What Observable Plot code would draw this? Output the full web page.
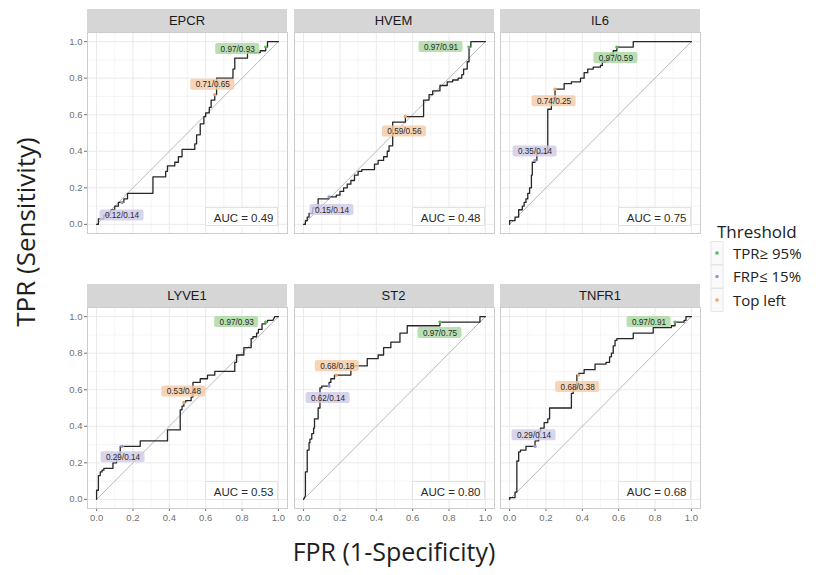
<!DOCTYPE html>
<html><head><meta charset="utf-8">
<script src="https://cdn.jsdelivr.net/npm/d3@7"></script>
<script src="https://cdn.jsdelivr.net/npm/@observablehq/plot@0.6"></script>
<style>
body{margin:0;background:#fff;}
#root{position:relative;width:820px;height:575px;overflow:hidden;background:#fff;font-family:Arial,"Liberation Sans",sans-serif;}
.strip{position:absolute;height:23px;width:200px;background:#d6d6d6;color:#1a1a1a;font-size:13px;text-align:center;line-height:23px;font-family:Arial,"Liberation Sans",sans-serif;}
.panel{position:absolute;}
.overlay{position:absolute;left:0;top:0;}
</style></head><body><div id="root"></div>
<script>
// ---------------- DATA ----------------
const markers = ["EPCR", "HVEM", "IL6", "LYVE1", "ST2", "TNFR1"];
const aucValues = [0.49, 0.48, 0.75, 0.53, 0.80, 0.68];
const axisTicks = [0, 0.2, 0.4, 0.6, 0.8, 1.0];
const minorTicks = [0.1, 0.3, 0.5, 0.7, 0.9];
const chanceLine = [[0, 0], [1, 1]];
const thresholdTypes = ["TPR\u2265 95%", "FRP\u2264 15%", "Top left"];

// ROC curves: [FPR, TPR] corner points
const rocEPCR = [[0,0],[0.01,0],[0.01,0.03],[0.04,0.03],[0.04,0.05],[0.07,0.05],[0.08,0.08],[0.1,0.08],[0.1,0.1],[0.12,0.1],[0.12,0.12],[0.15,0.12],[0.15,0.14],[0.17,0.14],[0.17,0.17],[0.31,0.17],[0.31,0.26],[0.38,0.26],[0.38,0.29],[0.39,0.29],[0.39,0.32],[0.43,0.32],[0.43,0.34],[0.45,0.34],[0.45,0.37],[0.47,0.37],[0.47,0.41],[0.54,0.41],[0.54,0.44],[0.55,0.44],[0.55,0.49],[0.57,0.49],[0.57,0.55],[0.59,0.55],[0.59,0.59],[0.6,0.59],[0.6,0.61],[0.62,0.61],[0.62,0.64],[0.63,0.64],[0.63,0.68],[0.65,0.68],[0.65,0.71],[0.66,0.71],[0.66,0.8],[0.75,0.8],[0.75,0.85],[0.76,0.85],[0.76,0.91],[0.83,0.91],[0.83,0.94],[0.9,0.94],[0.9,0.95],[0.93,0.95],[0.93,0.97],[0.94,0.97],[0.94,1],[1,1]];
const rocHVEM = [[0,0],[0.01,0],[0.01,0.02],[0.02,0.02],[0.02,0.04],[0.03,0.04],[0.03,0.06],[0.05,0.06],[0.05,0.09],[0.08,0.09],[0.08,0.14],[0.14,0.14],[0.14,0.15],[0.18,0.15],[0.18,0.16],[0.2,0.16],[0.2,0.18],[0.22,0.18],[0.22,0.2],[0.24,0.2],[0.24,0.22],[0.26,0.22],[0.26,0.24],[0.28,0.24],[0.28,0.27],[0.3,0.27],[0.3,0.29],[0.32,0.29],[0.32,0.3],[0.39,0.3],[0.39,0.33],[0.41,0.33],[0.41,0.35],[0.44,0.35],[0.44,0.37],[0.46,0.37],[0.46,0.4],[0.47,0.4],[0.47,0.43],[0.49,0.43],[0.49,0.56],[0.56,0.56],[0.56,0.59],[0.66,0.59],[0.66,0.68],[0.69,0.68],[0.69,0.71],[0.71,0.71],[0.71,0.73],[0.75,0.73],[0.75,0.76],[0.79,0.76],[0.79,0.78],[0.82,0.78],[0.82,0.79],[0.85,0.79],[0.85,0.8],[0.87,0.8],[0.87,0.82],[0.88,0.82],[0.88,0.85],[0.9,0.85],[0.9,0.89],[0.91,0.89],[0.91,0.97],[0.92,0.97],[0.92,1],[1,1]];
const rocIL6 = [[0,0],[0,0.02],[0.03,0.02],[0.03,0.04],[0.05,0.04],[0.05,0.08],[0.07,0.08],[0.07,0.1],[0.08,0.1],[0.08,0.12],[0.09,0.12],[0.09,0.14],[0.1,0.14],[0.1,0.17],[0.11,0.17],[0.11,0.2],[0.12,0.2],[0.12,0.27],[0.125,0.27],[0.125,0.34],[0.14,0.34],[0.14,0.35],[0.15,0.35],[0.15,0.39],[0.21,0.39],[0.21,0.63],[0.23,0.63],[0.23,0.69],[0.25,0.69],[0.25,0.74],[0.3,0.74],[0.3,0.77],[0.34,0.77],[0.34,0.78],[0.39,0.78],[0.39,0.8],[0.41,0.8],[0.41,0.83],[0.43,0.83],[0.43,0.85],[0.46,0.85],[0.46,0.86],[0.5,0.86],[0.5,0.87],[0.51,0.87],[0.51,0.89],[0.53,0.89],[0.53,0.9],[0.55,0.9],[0.55,0.93],[0.57,0.93],[0.57,0.95],[0.59,0.95],[0.59,0.97],[0.68,0.97],[0.68,1],[1,1]];
const rocLYVE1 = [[0,0],[0,0.05],[0.01,0.05],[0.01,0.13],[0.02,0.13],[0.02,0.15],[0.03,0.15],[0.03,0.16],[0.04,0.16],[0.04,0.17],[0.09,0.17],[0.09,0.2],[0.11,0.2],[0.11,0.23],[0.12,0.23],[0.12,0.25],[0.13,0.25],[0.13,0.29],[0.24,0.29],[0.24,0.32],[0.39,0.32],[0.39,0.38],[0.46,0.38],[0.46,0.49],[0.47,0.49],[0.47,0.51],[0.48,0.51],[0.48,0.53],[0.49,0.53],[0.49,0.54],[0.52,0.54],[0.52,0.56],[0.53,0.56],[0.53,0.64],[0.57,0.64],[0.57,0.66],[0.61,0.66],[0.61,0.68],[0.65,0.68],[0.65,0.7],[0.76,0.7],[0.76,0.75],[0.77,0.75],[0.77,0.79],[0.81,0.79],[0.81,0.83],[0.85,0.83],[0.85,0.88],[0.86,0.88],[0.86,0.89],[0.88,0.89],[0.88,0.91],[0.89,0.91],[0.89,0.93],[0.91,0.93],[0.91,0.96],[0.93,0.96],[0.93,0.97],[0.94,0.97],[0.94,0.98],[0.97,0.98],[0.98,1],[1,1]];
const rocST2 = [[0,0],[0.01,0.02],[0.01,0.15],[0.02,0.15],[0.02,0.27],[0.03,0.27],[0.03,0.31],[0.035,0.31],[0.035,0.33],[0.045,0.33],[0.045,0.36],[0.055,0.36],[0.055,0.39],[0.06,0.39],[0.06,0.44],[0.08,0.44],[0.08,0.5],[0.09,0.5],[0.09,0.61],[0.1,0.61],[0.1,0.62],[0.14,0.62],[0.14,0.64],[0.15,0.64],[0.15,0.66],[0.17,0.66],[0.17,0.68],[0.26,0.68],[0.26,0.73],[0.35,0.73],[0.35,0.77],[0.41,0.77],[0.41,0.79],[0.44,0.79],[0.44,0.83],[0.48,0.83],[0.48,0.86],[0.53,0.86],[0.53,0.91],[0.57,0.91],[0.57,0.95],[0.75,0.95],[0.75,0.97],[0.97,0.97],[0.97,1],[1,1]];
const rocTNFR1 = [[0,0],[0,0.01],[0.03,0.01],[0.03,0.04],[0.04,0.04],[0.04,0.21],[0.05,0.21],[0.05,0.26],[0.06,0.26],[0.06,0.27],[0.09,0.27],[0.09,0.29],[0.14,0.29],[0.14,0.32],[0.16,0.32],[0.16,0.37],[0.17,0.37],[0.17,0.39],[0.19,0.39],[0.19,0.42],[0.21,0.42],[0.21,0.44],[0.22,0.44],[0.22,0.5],[0.34,0.5],[0.34,0.58],[0.35,0.58],[0.35,0.61],[0.37,0.61],[0.37,0.68],[0.38,0.68],[0.38,0.69],[0.41,0.69],[0.41,0.71],[0.47,0.71],[0.47,0.74],[0.53,0.74],[0.53,0.75],[0.55,0.75],[0.55,0.78],[0.56,0.78],[0.56,0.8],[0.57,0.8],[0.57,0.84],[0.58,0.84],[0.58,0.87],[0.59,0.87],[0.59,0.88],[0.68,0.88],[0.68,0.91],[0.79,0.91],[0.79,0.94],[0.89,0.94],[0.89,0.95],[0.91,0.95],[0.91,0.97],[0.96,0.97],[0.96,0.98],[0.97,0.98],[0.97,1],[1,1]];

// Threshold results [TPR, FPR], in order of thresholdTypes
const thrEPCR  = [[0.97, 0.93], [0.12, 0.14], [0.71, 0.65]];
const thrHVEM  = [[0.97, 0.91], [0.15, 0.14], [0.59, 0.56]];
const thrIL6   = [[0.97, 0.59], [0.35, 0.14], [0.74, 0.25]];
const thrLYVE1 = [[0.97, 0.93], [0.29, 0.14], [0.53, 0.48]];
const thrST2   = [[0.97, 0.75], [0.62, 0.14], [0.68, 0.18]];
const thrTNFR1 = [[0.97, 0.91], [0.29, 0.14], [0.68, 0.38]];

// ---------------- LAYOUT / STYLE ----------------
const rocList = [rocEPCR, rocHVEM, rocIL6, rocLYVE1, rocST2, rocTNFR1];
const thrList = [thrEPCR, thrHVEM, thrIL6, thrLYVE1, thrST2, thrTNFR1];
// pixel nudges of the repelled labels [dx, dy]
const labelNudge = [
  [[-28, 2], [0, 13], [-2, -10]],
  [[-28, 0], [3, 13], [-1, 15]],
  [[-1, 11], [0, -9], [-1, 12]],
  [[-29, 0], [1, 11], [0, -11]],
  [[0, 11], [-1, 12], [1, -9]],
  [[-26, 0], [-1, -11], [-1, 12]]
];
const dotColors = ["#5cb85a", "#9d97cc", "#f2a45e"];
const labelFills = ["#a9d8a1", "#cfcbe8", "#f6cba6"];

const PW = 200, PH = 201;
const panelLeft = [87, 293.5, 500];
const panelTop = [32, 307];

const root = document.getElementById("root");
const fmt = d3.format(".1f");

markers.forEach((name, i) => {
  const col = i % 3, row = Math.floor(i / 3);
  const ml = col === 0 ? 30 : 0;
  const mb = row === 1 ? 22 : 0;
  const left = panelLeft[col], top = panelTop[row];

  const strip = document.createElement("div");
  strip.className = "strip";
  strip.style.left = left + "px";
  strip.style.top = (top - 23) + "px";
  strip.textContent = name;
  root.appendChild(strip);

  const roc = rocList[i];
  const thr = thrList[i];
  const marks = [
    Plot.ruleX(minorTicks, {stroke: "#f3f3f3", strokeWidth: 0.8}),
    Plot.ruleY(minorTicks, {stroke: "#f3f3f3", strokeWidth: 0.8}),
    Plot.ruleX(axisTicks, {stroke: "#e8e8e8", strokeWidth: 0.9}),
    Plot.ruleY(axisTicks, {stroke: "#e8e8e8", strokeWidth: 0.9}),
    Plot.frame({stroke: "#cccccc", strokeWidth: 1}),
    Plot.line(chanceLine, {x: d => d[0], y: d => d[1], stroke: "#b0b0b0", strokeWidth: 0.9}),
    Plot.line(roc, {x: d => d[0], y: d => d[1], stroke: "#262626", strokeWidth: 1.3})
  ];
  thr.forEach((t, k) => {
    const [dx, dy] = labelNudge[i][k];
    marks.push(Plot.dot([t], {x: d => d[1], y: d => d[0], r: 1.7, fill: dotColors[k]}));
  });
  thr.forEach((t, k) => {
    const [dx, dy] = labelNudge[i][k];
    marks.push(Plot.rect([t], {
      x1: d => d[1], x2: d => d[1], y1: d => d[0], y2: d => d[0],
      fill: labelFills[k], fillOpacity: 0.82, rx: 2,
      insetLeft: dx - 22, insetRight: -(dx + 22),
      insetTop: dy - 5.5, insetBottom: -(dy + 5.5)
    }));
    marks.push(Plot.text([t], {
      x: d => d[1], y: d => d[0], dx, dy,
      text: d => `${d[0].toFixed(2)}/${d[1].toFixed(2)}`,
      fontSize: 8.2, fill: "#2a2a2a", fontFamily: "Arial, 'Liberation Sans', sans-serif"
    }));
  });
  marks.push(Plot.frame({fill: "white", stroke: "#e2e2e2", insetLeft: 118, insetRight: 10, insetTop: row ? 174 : 175, insetBottom: row ? 9 : 8}));
  marks.push(Plot.text([aucValues[i]], {
    frameAnchor: "bottom-right", dx: -14, dy: row ? -13 : -12,
    text: d => `AUC = ${d.toFixed(2)}`, fontSize: 11.5, fill: "#2a2a2a"
  }));

  const chart = Plot.plot({
    width: PW + ml, height: PH + mb,
    marginLeft: ml, marginRight: 0, marginTop: 0, marginBottom: mb,
    style: {background: "transparent", fontFamily: "Arial, 'Liberation Sans', sans-serif", fontSize: "9.5px", color: "#707070", overflow: "visible"},
    x: {domain: [-0.05, 1.05], axis: row === 1 ? "bottom" : null, ticks: axisTicks, tickFormat: fmt, tickSize: 3, tickPadding: 3, label: null},
    y: {domain: [-0.05, 1.05], axis: col === 0 ? "left" : null, ticks: axisTicks, tickFormat: fmt, tickSize: 3, tickPadding: 2, label: null},
    marks
  });
  chart.classList.add("panel");
  chart.style.left = (left - ml) + "px";
  chart.style.top = top + "px";
  root.appendChild(chart);
});

// titles and legend overlay
const svg = d3.select(root).append("svg").attr("class", "overlay")
  .attr("width", 820).attr("height", 575);
svg.append("text").attr("transform", "translate(35,232) rotate(-90)")
  .attr("text-anchor", "middle").attr("font-family", "'Open Sans', sans-serif")
  .attr("font-size", 26).attr("fill", "#1e1e1e").text("TPR (Sensitivity)");
svg.append("text").attr("x", 394).attr("y", 561)
  .attr("text-anchor", "middle").attr("font-family", "'Open Sans', sans-serif")
  .attr("font-size", 25).attr("fill", "#1e1e1e").text("FPR (1-Specificity)");

const lg = svg.append("g").attr("font-family", "'Open Sans', sans-serif");
lg.append("text").attr("x", 717).attr("y", 238).attr("font-size", 17).attr("fill", "#222").text("Threshold");
thresholdTypes.forEach((t, k) => {
  const cy = 253 + k * 23.5;
  lg.append("rect").attr("x", 711).attr("y", cy - 11.5).attr("width", 12).attr("height", 23)
    .attr("fill", "#fafafa").attr("stroke", "#e0e0e0").attr("stroke-width", 0.8);
  lg.append("circle").attr("cx", 717).attr("cy", cy).attr("r", 1.8).attr("fill", dotColors[k]);
  lg.append("text").attr("x", 733).attr("y", cy + 5.5).attr("font-size", 15).attr("fill", "#222").text(t);
});
</script></body></html>
